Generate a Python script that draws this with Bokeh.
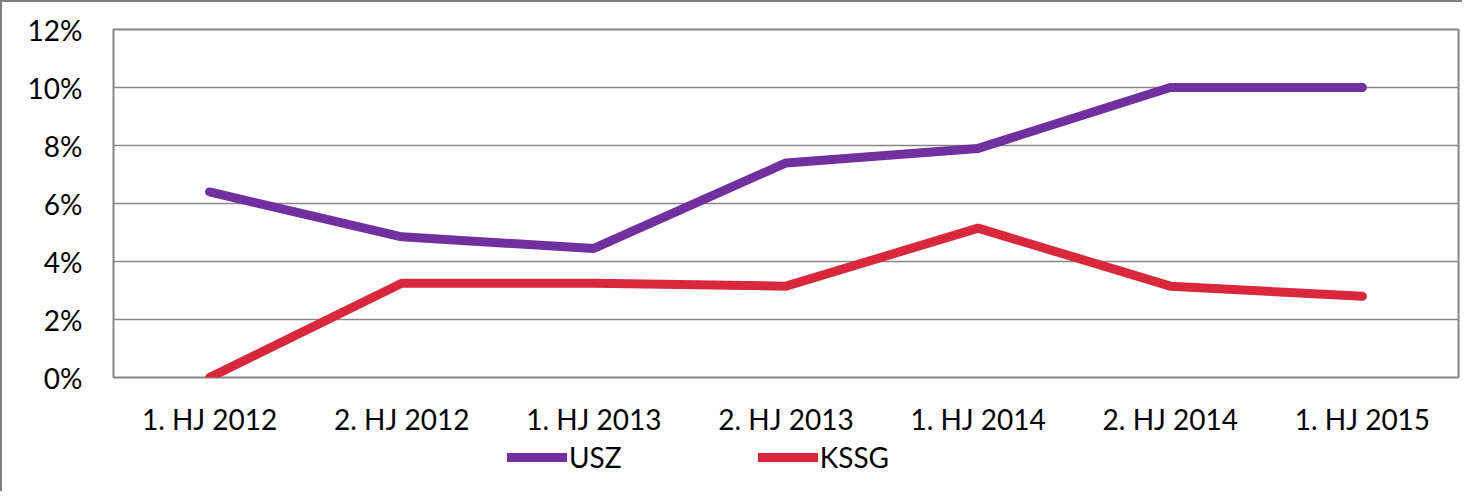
from bokeh.plotting import figure
from bokeh.layouts import column
from bokeh.models import FixedTicker, PrintfTickFormatter, Legend, LegendItem, Range1d, FactorRange
from bokeh.embed import file_html
from bokeh.resources import INLINE

categories = ["1. HJ 2012", "2. HJ 2012", "1. HJ 2013", "2. HJ 2013", "1. HJ 2014", "2. HJ 2014", "1. HJ 2015"]
usz = [6.4, 4.85, 4.45, 7.4, 7.9, 10.0, 10.0]
kssg = [0.0, 3.25, 3.25, 3.15, 5.15, 3.15, 2.8]
y_ticks = [0, 2, 4, 6, 8, 10, 12]
series_names = ["USZ", "KSSG"]
series_colors = ["#7030A0", "#D9283C"]

FONT = "Lato"
FS = "28px"
GRID = "#868686"
BORDER = "2px solid #808080"

p = figure(x_range=FactorRange(*categories, range_padding=0), y_range=Range1d(0, 12),
           output_backend="svg", toolbar_location=None,
           min_border_left=111, min_border_top=27, min_border_right=6, min_border_bottom=60)
p.frame_width = 1343
p.frame_height = 346
p.styles = {"border-left": BORDER, "border-top": BORDER}

p.outline_line_color = GRID
p.outline_line_width = 2

p.xgrid.visible = False
p.ygrid.grid_line_color = GRID
p.ygrid.grid_line_width = 1.5
p.ygrid.ticker = FixedTicker(ticks=y_ticks)

p.yaxis.ticker = FixedTicker(ticks=y_ticks)
p.yaxis.formatter = PrintfTickFormatter(format="%d%%")
for ax in (p.xaxis[0], p.yaxis[0]):
    ax.axis_line_color = None
    ax.major_tick_line_color = None
    ax.minor_tick_line_color = None
    ax.major_label_text_font = FONT
    ax.major_label_text_font_size = FS
    ax.major_label_text_color = "#000000"
p.yaxis.major_label_standoff = 25
p.xaxis.major_label_standoff = 18

p.line(categories, usz, line_color=series_colors[0], line_width=9, line_cap="round", line_join="round")
p.line(categories, kssg, line_color=series_colors[1], line_width=9, line_cap="round", line_join="round")

# legend strip below the chart (its own figure so the legend is not clipped)
lf = figure(width=1460, height=55, x_range=Range1d(0, 1), y_range=Range1d(0, 1),
            output_backend="svg", toolbar_location=None,
            min_border_left=0, min_border_right=0, min_border_top=0, min_border_bottom=0)
lf.axis.visible = False
lf.grid.visible = False
lf.outline_line_color = None
lf.styles = {"border-left": BORDER}

items = []
for name, col in zip(series_names, series_colors):
    # points lie outside the visible range; only the legend swatch shows
    r = lf.line([5, 6], [5, 6], line_color=col, line_width=9, line_cap="round")
    items.append(LegendItem(label=name, renderers=[r]))

legend = Legend(items=items, orientation="horizontal", location=(394, 17))
legend.padding = 0
legend.margin = 0
legend.spacing = 136
legend.glyph_width = 60
legend.glyph_height = 30
legend.label_height = 30
legend.label_standoff = 2
legend.label_text_font = FONT
legend.label_text_font_size = FS
legend.label_text_color = "#000000"
legend.border_line_color = None
legend.background_fill_alpha = 0
lf.add_layout(legend, "center")

layout = column(p, lf, spacing=0)
open("out.html", "w").write(file_html(layout, INLINE))
